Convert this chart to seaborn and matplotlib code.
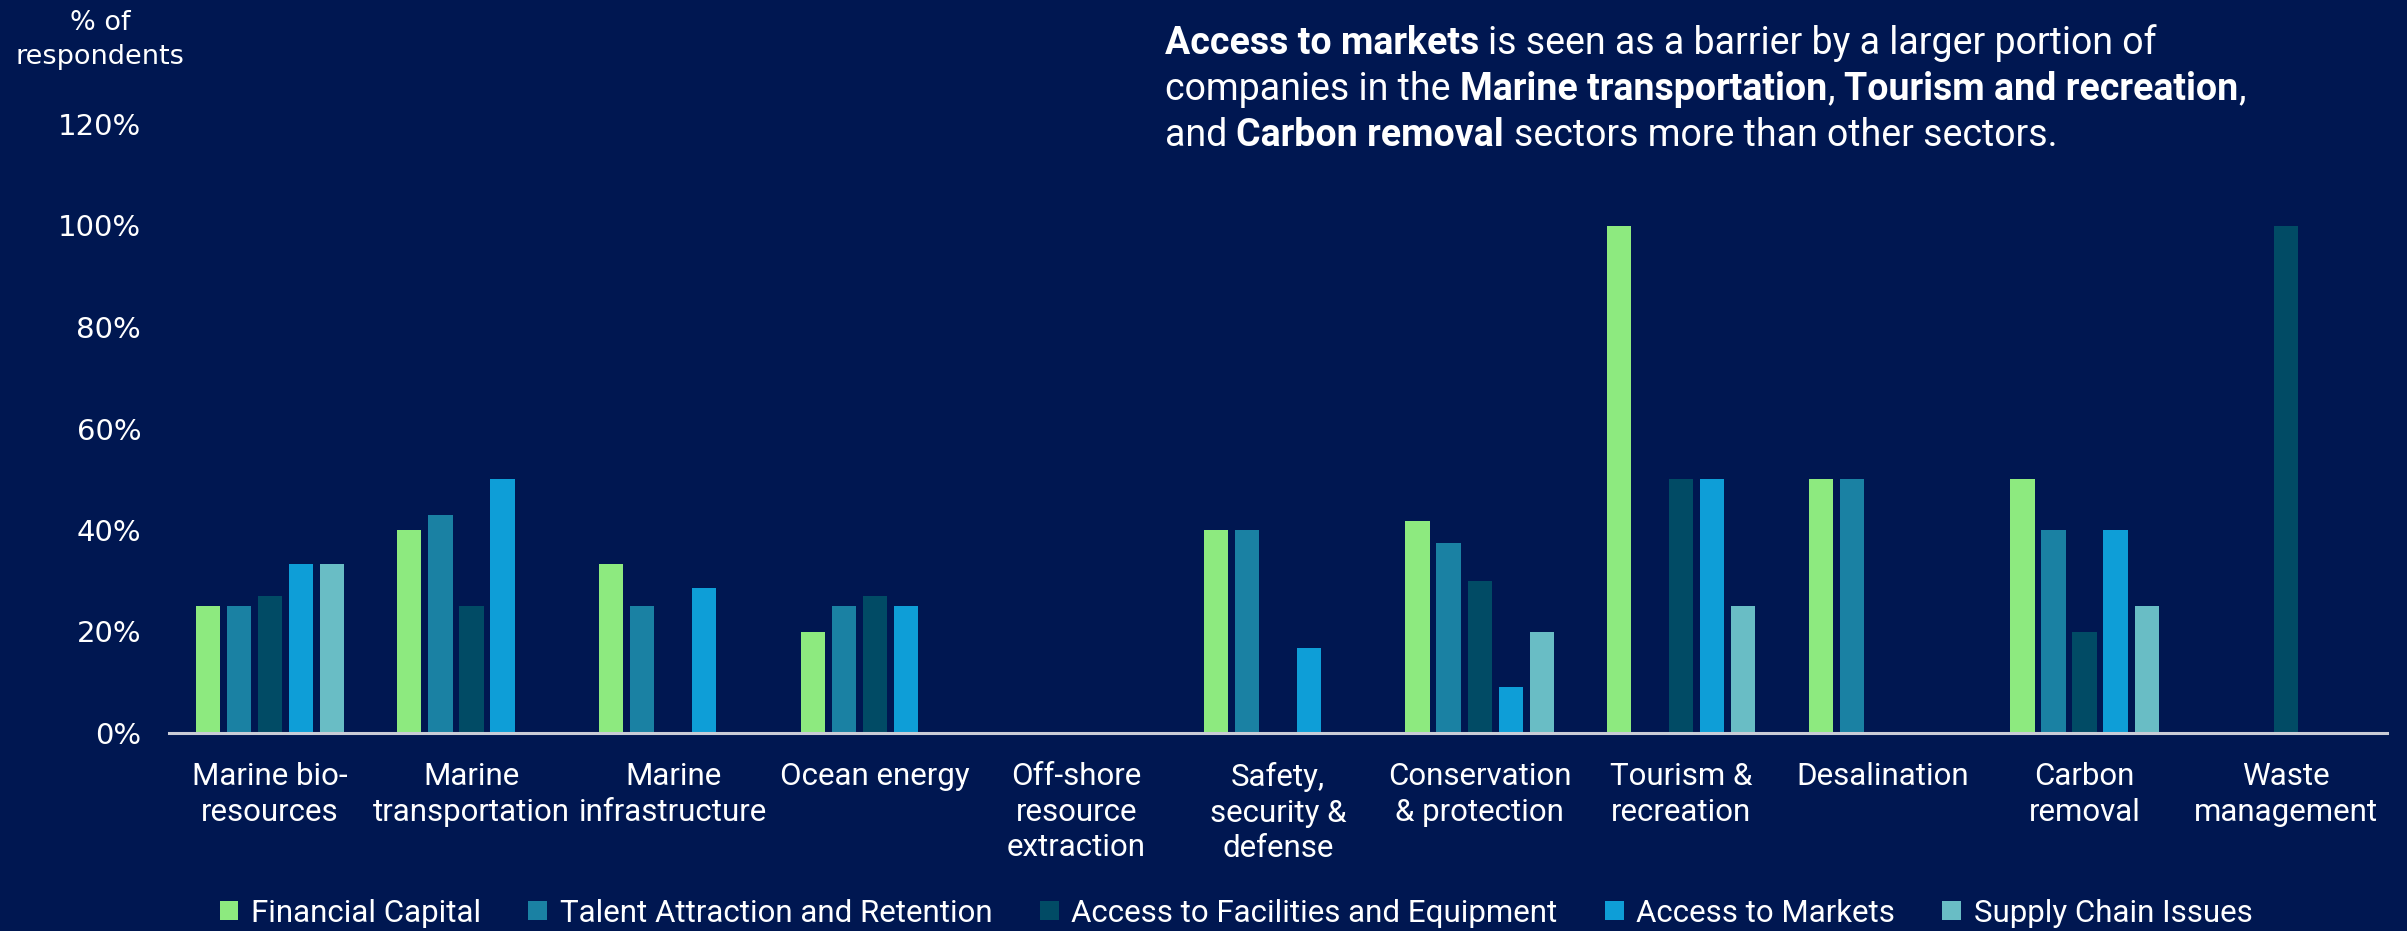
import numpy as np
import pandas as pd
import matplotlib
matplotlib.use("Agg")
import matplotlib.pyplot as plt
from matplotlib.patches import Patch
import seaborn as sns

# ---- data -------------------------------------------------------------
sectors = [
    "Marine bio-\nresources",
    "Marine\ntransportation",
    "Marine\ninfrastructure",
    "Ocean energy",
    "Off-shore\nresource\nextraction",
    "Safety,\nsecurity &\ndefense",
    "Conservation\n& protection",
    "Tourism &\nrecreation",
    "Desalination",
    "Carbon\nremoval",
    "Waste\nmanagement",
]
barriers = [
    "Financial Capital",
    "Talent Attraction and Retention",
    "Access to Facilities and Equipment",
    "Access to Markets",
    "Supply Chain Issues",
]
financial_capital = [0.25, 0.40, 0.333, 0.20, 0.0, 0.40, 0.417, 1.00, 0.50, 0.50, 0.0]
talent_attraction = [0.25, 0.429, 0.25, 0.25, 0.0, 0.40, 0.375, 0.0, 0.50, 0.40, 0.0]
access_facilities = [0.27, 0.25, 0.0, 0.27, 0.0, 0.0, 0.30, 0.50, 0.0, 0.20, 1.00]
access_markets = [0.333, 0.50, 0.286, 0.25, 0.0, 0.167, 0.09, 0.50, 0.0, 0.40, 0.0]
supply_chain = [0.333, 0.0, 0.0, 0.0, 0.0, 0.0, 0.20, 0.25, 0.0, 0.25, 0.0]
yticks = [0, 0.2, 0.4, 0.6, 0.8, 1.0, 1.2]
ytick_labels = ["0%", "20%", "40%", "60%", "80%", "100%", "120%"]

series = [financial_capital, talent_attraction, access_facilities,
          access_markets, supply_chain]
df = pd.DataFrame({
    "sector": np.tile(sectors, len(barriers)),
    "barrier": np.repeat(barriers, len(sectors)),
    "share": np.concatenate(series),
})

# ---- style ------------------------------------------------------------
BG = "#001751"
colors = ["#8DEA7F", "#1A81A3", "#014B65", "#0E9ED7", "#69BDC5"]
NARROW = ["Roboto", "DejaVu Sans"]

sns.set_theme(style="white")
plt.rcParams["font.family"] = NARROW

W, H, DPI = 2407, 931, 100
fig = plt.figure(figsize=(W / DPI, H / DPI), dpi=DPI, facecolor=BG)
ax = fig.add_axes([169 / W, 1 - 733 / H, (2387 - 169) / W, (733 - 124) / H])
ax.set_facecolor(BG)

sns.barplot(data=df, x="sector", y="share", hue="barrier",
            order=sectors, hue_order=barriers, palette=colors,
            saturation=1, width=0.77, gap=0.22, linewidth=0, ax=ax,
            legend=False, errorbar=None)

ax.set_ylim(0, 1.2)
ax.set_xlim(-0.5, len(sectors) - 0.5)
ax.set_yticks(yticks)
ax.set_yticklabels(ytick_labels, family="DejaVu Sans", fontsize=21,
                   color="white")
ax.tick_params(axis="y", length=0, pad=20)
ax.tick_params(axis="x", length=0, pad=21)
for lab in ax.get_xticklabels():
    lab.set_fontsize(22.5)
    lab.set_color("white")
    lab.set_linespacing(1.28)
    lab.set_family(NARROW)
ax.set_xlabel("")
ax.set_ylabel("")
for side in ["top", "right", "left"]:
    ax.spines[side].set_visible(False)
ax.spines["bottom"].set_color("#C9CCD6")
ax.spines["bottom"].set_linewidth(2.2)
ax.grid(False)

# y-axis title in the top-left corner
fig.text(100 / W, 1 - 40 / H, "% of\nrespondents", ha="center", va="center",
         family="DejaVu Sans", fontsize=19.5, color="white", linespacing=1.45)

# legend along the bottom
handles = [Patch(facecolor=c, edgecolor="none") for c in colors]
fig.legend(handles, barriers, loc="center", bbox_to_anchor=(1236 / W, 1 - 913 / H),
           ncol=5, frameon=False, labelcolor="white",
           handlelength=0.6, handleheight=0.6, handletextpad=0.4,
           columnspacing=1.52, prop={"family": NARROW, "size": 22.5})

# call-out text with bold phrases
renderer = fig.canvas.get_renderer()
CALLOUT_SIZE = 27


def text_width(s, weight):
    t = fig.text(0, 0, s, fontsize=CALLOUT_SIZE, weight=weight, family=NARROW)
    w = t.get_window_extent(renderer).width
    t.remove()
    return w


space_w = {wt: text_width("a a", wt) - text_width("aa", wt)
           for wt in ("normal", "bold")}

callout = [
    [("Access to markets", "bold"), (" is seen as a barrier by a larger portion of", "normal")],
    [("companies in the ", "normal"), ("Marine transportation", "bold"), (", ", "normal"),
     ("Tourism and recreation", "bold"), (",", "normal")],
    [("and ", "normal"), ("Carbon removal", "bold"), (" sectors more than other sectors.", "normal")],
]
x0, y0, dy = 1165, 43, 46
for i, line in enumerate(callout):
    x = x0
    for s, wt in line:
        lead = len(s) - len(s.lstrip(" "))
        trail = len(s) - len(s.rstrip(" "))
        core = s.strip(" ")
        x += lead * space_w[wt]
        t = fig.text(x / W, 1 - (y0 + i * dy) / H, core, fontsize=CALLOUT_SIZE,
                     weight=wt, family=NARROW, color="white", va="center")
        x += t.get_window_extent(renderer).width
        x += trail * space_w[wt]

fig.savefig("out.png", dpi=DPI, facecolor=BG)
